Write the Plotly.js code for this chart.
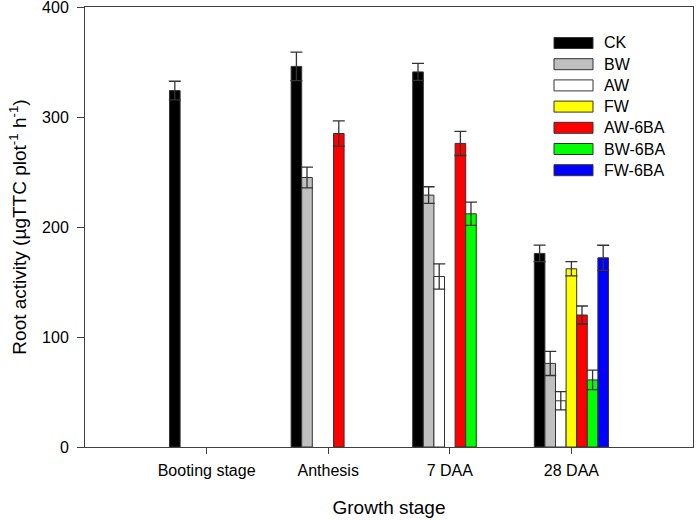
<!DOCTYPE html>
<html>
<head>
<meta charset="utf-8">
<script src="https://cdn.plot.ly/plotly-3.0.1.min.js"></script>
<style>html,body{margin:0;padding:0;background:#fff}</style>
</head>
<body>
<div id="chart" style="width:697px;height:520px"></div>
<script>
// Data
const categories = ['Booting stage', 'Anthesis', '7 DAA', '28 DAA'];
const seriesNames = ['CK', 'BW', 'AW', 'FW', 'AW-6BA', 'BW-6BA', 'FW-6BA'];
const seriesColors = ['#000000', '#c0c0c0', '#ffffff', '#ffff00', '#ff0000', '#00ff00', '#0000ff'];

const CK      = [324, 346, 341, 176];
const CK_err  = [8.5, 13, 7.7, 7.5];
const BW      = [null, 245, 229, 76];
const BW_err  = [null, 9.5, 7.6, 11];
const AW      = [null, null, 155, 42];
const AW_err  = [null, null, 11.4, 8.3];
const FW      = [null, null, null, 162];
const FW_err  = [null, null, null, 6.5];
const AW6BA     = [null, 285, 276, 120];
const AW6BA_err = [null, 11.5, 11, 8.2];
const BW6BA     = [null, null, 212, 61];
const BW6BA_err = [null, null, 10.6, 8.8];
const FW6BA     = [null, null, null, 172];
const FW6BA_err = [null, null, null, 11.4];

const yTicks = [0, 100, 200, 300, 400];

const values = [CK, BW, AW, FW, AW6BA, BW6BA, FW6BA];
const errors = [CK_err, BW_err, AW_err, FW_err, AW6BA_err, BW6BA_err, FW6BA_err];

const FONT = 'Liberation Sans, Arial, sans-serif';
const LINE = '#404040';

const traces = seriesNames.map((name, i) => ({
  type: 'bar',
  name: name,
  x: categories,
  y: values[i],
  marker: { color: seriesColors[i], line: { color: '#333333', width: 1 } },
  error_y: { type: 'data', array: errors[i], visible: true, color: '#333333', thickness: 1.3, width: 6 },
  showlegend: false,
  hoverinfo: 'x+y+name'
}));

// Custom legend (wide swatches like the reference)
const M = { l: 85, r: 4, t: 7, b: 73 };
const W = 697, H = 520;
const pw = W - M.l - M.r, ph = H - M.t - M.b;
const px2x = p => (p - M.l) / pw;
const py2y = p => (H - M.b - p) / ph;
const legX0 = 554, legX1 = 593, legTextX = 602, legY0 = 43, legDY = 21.2, legBoxH = 11;

const shapes = [];
const annotations = [];
seriesNames.forEach((name, i) => {
  const cy = legY0 + i * legDY;
  shapes.push({
    type: 'rect', xref: 'paper', yref: 'paper',
    x0: px2x(legX0), x1: px2x(legX1),
    y0: py2y(cy + legBoxH / 2), y1: py2y(cy - legBoxH / 2),
    fillcolor: seriesColors[i], line: { color: '#333333', width: 1 }
  });
  annotations.push({
    xref: 'paper', yref: 'paper', x: px2x(legTextX), y: py2y(cy),
    xanchor: 'left', yanchor: 'middle', text: name, showarrow: false,
    font: { family: FONT, size: 16, color: '#000' }
  });
});

const layout = {
  width: W, height: H,
  margin: M,
  paper_bgcolor: '#ffffff', plot_bgcolor: '#ffffff',
  font: { family: FONT, size: 16, color: '#000' },
  barmode: 'group',
  bargap: 0.39,
  bargroupgap: 0,
  xaxis: {
    type: 'category',
    range: [-1, 4],
    showline: true, mirror: true, linecolor: LINE, linewidth: 1,
    ticks: 'outside', ticklen: 6, tickcolor: LINE, tickwidth: 1,
    showgrid: false, zeroline: false,
    tickfont: { family: FONT, size: 16, color: '#000' },
    ticklabelstandoff: 3,
    title: { text: 'Growth stage', font: { family: FONT, size: 19, color: '#000' }, standoff: 22 }
  },
  yaxis: {
    range: [0, 400],
    tickvals: yTicks,
    ticktext: yTicks.map(String),
    ticklabeloverflow: 'allow',
    showline: true, mirror: true, linecolor: LINE, linewidth: 1,
    ticks: 'outside', ticklen: 7, tickcolor: LINE, tickwidth: 1,
    showgrid: false, zeroline: false,
    tickfont: { family: FONT, size: 16, color: '#000' },
    ticklabelstandoff: 5,
    title: { text: 'Root activity (µgTTC plot<sup>-1</sup> h<sup>-1</sup>)', font: { family: FONT, size: 19, color: '#000' }, standoff: 10 }
  },
  shapes: shapes,
  annotations: annotations
};

Plotly.newPlot('chart', traces, layout, { displayModeBar: false, staticPlot: true });
</script>
</body>
</html>
